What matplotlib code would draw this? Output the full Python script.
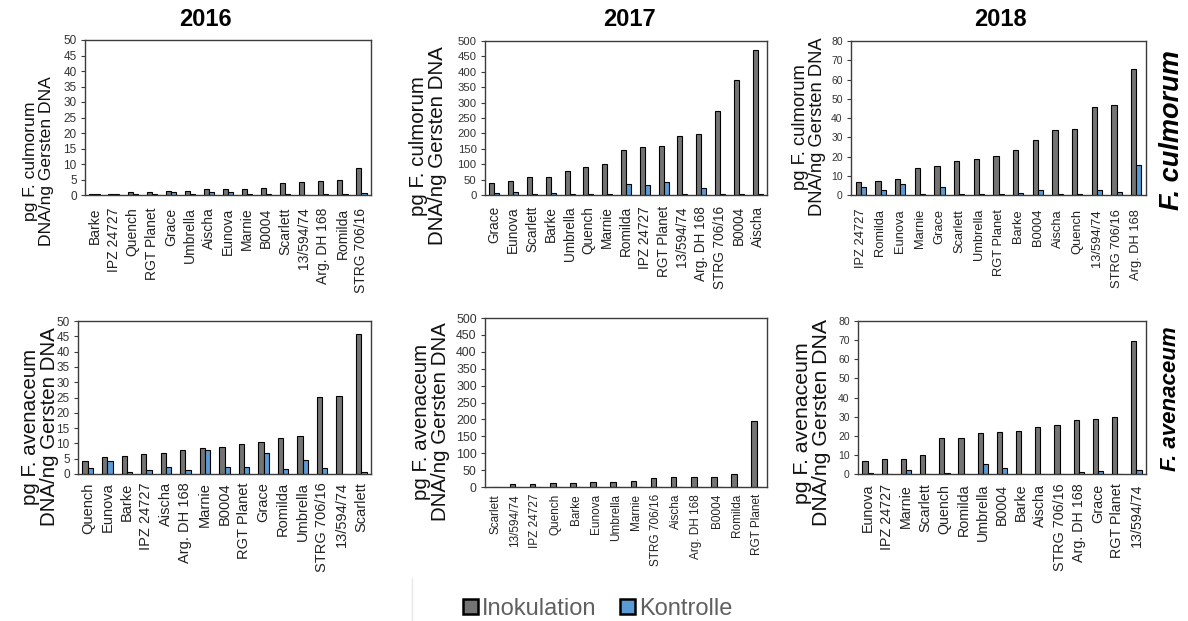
import matplotlib
matplotlib.use("Agg")
import matplotlib.pyplot as plt
from matplotlib.patches import Patch
from matplotlib.lines import Line2D
import numpy as np

plt.rcParams['font.family'] = ['Liberation Sans', 'DejaVu Sans']

W, H = 1188, 621

# ---- F. culmorum ----
cul16_names = ["Barke", "IPZ 24727", "Quench", "RGT Planet", "Grace", "Umbrella",
               "Aischa", "Eunova", "Marnie", "B0004", "Scarlett", "13/594/74",
               "Arg. DH 168", "Romilda", "STRG 706/16"]
cul16_inok = [0.4, 0.3, 1.0, 1.0, 1.2, 1.2, 1.9, 1.9, 1.9, 2.1, 3.9, 4.3, 4.5, 4.7, 8.7]
cul16_kont = [0.2, 0.2, 0.2, 0.3, 0.9, 0.3, 1.0, 1.1, 0.3, 0.2, 0.2, 0.1, 0.2, 0.2, 0.8]

cul17_names = ["Grace", "Eunova", "Scarlett", "Barke", "Umbrella", "Quench", "Marnie",
               "Romilda", "IPZ 24727", "RGT Planet", "13/594/74", "Arg. DH 168",
               "STRG 706/16", "B0004", "Aischa"]
cul17_inok = [38, 47, 57, 59, 78, 91, 100, 147, 157, 159, 191, 197, 273, 375, 470]
cul17_kont = [5, 9, 3, 5, 2, 2, 2, 35, 32, 43, 2, 23, 2, 4, 2]

cul18_names = ["IPZ 24727", "Romilda", "Eunova", "Marnie", "Grace", "Scarlett",
               "Umbrella", "RGT Planet", "Barke", "B0004", "Aischa", "Quench",
               "13/594/74", "STRG 706/16", "Arg. DH 168"]
cul18_inok = [6.9, 7.3, 8.4, 14.2, 15.2, 17.5, 18.8, 20.1, 23.3, 28.5, 33.8, 34.5, 45.8, 46.5, 65.2]
cul18_kont = [4.2, 2.5, 5.5, 0.3, 4.2, 0.5, 0.3, 0.3, 0.8, 2.6, 0.3, 0.5, 2.6, 1.3, 15.5]

# ---- F. avenaceum ----
ave16_names = ["Quench", "Eunova", "Barke", "IPZ 24727", "Aischa", "Arg. DH 168",
               "Marnie", "B0004", "RGT Planet", "Grace", "Romilda", "Umbrella",
               "STRG 706/16", "13/594/74", "Scarlett"]
ave16_inok = [4.4, 5.4, 5.8, 6.4, 6.9, 7.7, 8.6, 8.9, 9.9, 10.5, 11.8, 12.4, 25.1, 25.5, 45.7]
ave16_kont = [2.0, 4.4, 0.8, 1.4, 2.2, 1.4, 7.7, 2.4, 2.2, 6.7, 1.6, 4.6, 2.0, 0.0, 0.8]

ave17_names = ["Scarlett", "13/594/74", "IPZ 24727", "Quench", "Barke", "Eunova",
               "Umbrella", "Marnie", "STRG 706/16", "Aischa", "Arg. DH 168", "B0004",
               "Romilda", "RGT Planet"]
ave17_inok = [1, 10, 10, 13, 13, 14, 16, 19, 27, 29, 29, 29, 38, 195]
ave17_kont = [0, 1, 1, 0.5, 0.5, 0.5, 0.5, 0.5, 0.5, 0.5, 0.5, 0.5, 0.5, 0.5]

ave18_names = ["Eunova", "IPZ 24727", "Marnie", "Scarlett", "Quench", "Romilda",
               "Umbrella", "B0004", "Barke", "Aischa", "STRG 706/16", "Arg. DH 168",
               "Grace", "RGT Planet", "13/594/74"]
ave18_inok = [7.0, 7.8, 8.1, 10.1, 18.6, 18.9, 21.5, 21.9, 22.5, 24.8, 25.5, 28.0, 29.0, 30.0, 69.6]
ave18_kont = [0.5, 0.2, 1.9, 0.2, 0.5, 0.2, 5.2, 3.2, 0.2, 0.2, 0.2, 1.0, 1.4, 0.2, 2.2]

years = ["2016", "2017", "2018"]
series_labels = ["Inokulation", "Kontrolle"]

GRAY = "#747474"
BLUE = "#5b9bd5"
FRAME = "#3c3c3c"
TICKC = "#333333"

fig = plt.figure(figsize=(W / 100, H / 100), dpi=100)


def fx(x):
    return x / W


def fy(y):
    return 1 - y / H


def panel(box, names, inok, kont, ymax, ystep, ytick_fs, xtick_fs, xpad,
          ylab, ylab_xy, ylab_fs):
    x0, y0, x1, y1 = box
    ax = fig.add_axes([fx(x0), fy(y1), (x1 - x0) / W, (y1 - y0) / H])
    n = len(names)
    x = np.arange(n)
    w = 0.27
    ax.bar(x - w / 2, inok, w, color=GRAY, edgecolor="black", linewidth=0.8)
    ax.bar(x + w / 2, kont, w, color=BLUE, edgecolor="black", linewidth=0.8)
    ax.set_xlim(-0.5, n - 0.5)
    ax.set_ylim(0, ymax)
    ax.set_yticks(np.arange(0, ymax + ystep / 2, ystep))
    ax.set_xticks(x)
    ax.set_xticklabels(names, rotation=90, fontsize=xtick_fs, color="#222222")
    ax.tick_params(axis="x", length=0, pad=xpad)
    ax.tick_params(axis="y", length=3, width=0.8, color=FRAME, pad=3,
                   labelsize=ytick_fs, labelcolor=TICKC)
    for s in ax.spines.values():
        s.set_color(FRAME)
        s.set_linewidth(1.0)
    l1, l2 = ylab
    cx, cy = ylab_xy
    d = ylab_fs * 0.62
    fig.text(fx(cx - d), fy(cy), l1, rotation=90, ha="center", va="center",
             fontsize=ylab_fs, color="#111111")
    fig.text(fx(cx + d), fy(cy), l2, rotation=90, ha="center", va="center",
             fontsize=ylab_fs, color="#111111")
    return ax


lab_c = ("pg F. culmorum", "DNA/ng Gersten DNA")
lab_a = ("pg F. avenaceum", "DNA/ng Gersten DNA")

panel((85, 40, 371, 195), cul16_names, cul16_inok, cul16_kont, 50, 5, 8.5, 10, 9,
      lab_c, (38.5, 161), 12.6)
panel((485, 41, 767, 195), cul17_names, cul17_inok, cul17_kont, 500, 50, 8.2, 9.8, 8,
      lab_c, (428, 146), 14.8)
panel((851, 41, 1146, 195), cul18_names, cul18_inok, cul18_kont, 80, 10, 7.5, 9.3, 10,
      lab_c, (809, 127), 13.2)
panel((78, 321, 371, 474), ave16_names, ave16_inok, ave16_kont, 50, 5, 8.5, 10.5, 6,
      lab_a, (40, 427), 14.8)
panel((485, 318, 767, 487), ave17_names, ave17_inok, ave17_kont, 500, 50, 8.9, 8.5, 5,
      lab_a, (431, 422), 14.8)
panel((858, 321, 1146, 474), ave18_names, ave18_inok, ave18_kont, 80, 10, 7.5, 10.3, 7,
      lab_a, (812, 423), 15.3)

# year headings
for yr, cx in zip(years, [205, 629, 1000]):
    fig.text(fx(cx), fy(20), yr, ha="center", va="center", fontsize=17,
             fontweight="bold", color="black")

# species labels on the right
fig.text(fx(1172), fy(130), "F. culmorum", rotation=90, ha="center", va="center",
         fontsize=19.5, fontweight="bold", fontstyle="italic")
fig.text(fx(1171), fy(399), "F. avenaceum", rotation=90, ha="center", va="center",
         fontsize=16, fontweight="bold", fontstyle="italic")

# legend
handles = [Patch(facecolor=GRAY, edgecolor="black", linewidth=1.8),
           Patch(facecolor=BLUE, edgecolor="black", linewidth=1.8)]
leg = fig.legend(handles, series_labels, loc="center", bbox_to_anchor=(fx(598), fy(609)),
                 ncol=2, frameon=False, fontsize=17, handlelength=0.6, handleheight=0.6,
                 handletextpad=0.2, columnspacing=1.0, borderpad=0.0)
for t in leg.get_texts():
    t.set_color("#606060")

fig.add_artist(Line2D([fx(412), fx(412)], [fy(578), fy(621)], color="#e8e8e8",
                      linewidth=1.0))

fig.savefig("out.png", dpi=100)
